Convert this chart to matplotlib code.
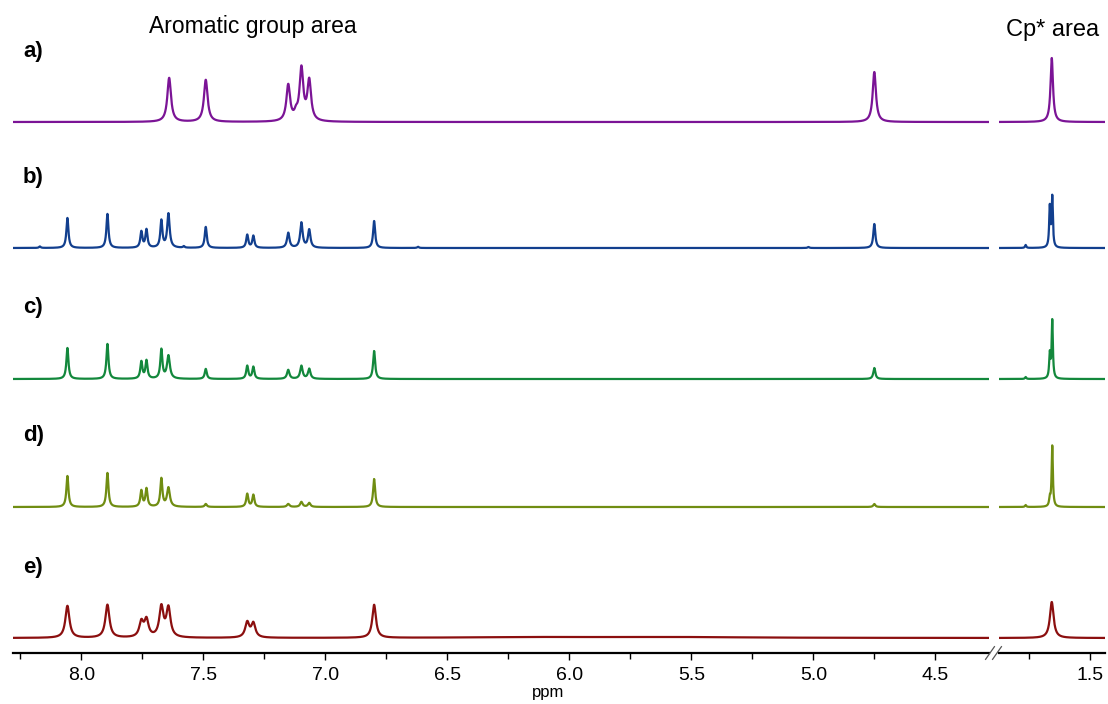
import numpy as np
import matplotlib.pyplot as plt
from matplotlib.ticker import MultipleLocator

plt.rcParams['font.family'] = ['Liberation Sans', 'DejaVu Sans']

# --- data: peak lists (ppm, height, half width) for each spectrum
labels = ['a)', 'b)', 'c)', 'd)', 'e)']
colors = ['#7b1496', '#123f8e', '#13883c', '#708d12', '#8b0f0f']

pos_a = [7.640, 7.490, 7.152, 7.120, 7.098, 7.066, 4.750, 1.656]
hgt_a = [44, 42, 36, 6, 52, 40, 50, 64]
wid_a = [0.009, 0.009, 0.009, 0.008, 0.009, 0.009, 0.008, 0.006]

pos_b = [8.057, 7.893, 7.754, 7.733, 7.672, 7.643, 7.490, 7.320, 7.295,
         7.152, 7.098, 7.066, 6.800, 4.750, 1.762, 1.664, 1.654, 8.17, 7.58, 6.62, 5.02]
hgt_b = [30, 34, 16, 18, 27, 34, 21, 13, 12,
         15, 25, 18, 27, 24, 3, 40, 50, 1.5, 1.5, 1.2, 1.0]
wid_b = [0.005, 0.005, 0.005, 0.005, 0.005, 0.006, 0.005, 0.005, 0.005,
         0.006, 0.006, 0.006, 0.005, 0.005, 0.003, 0.003, 0.003, 0.004, 0.004, 0.004, 0.004]

pos_c = [8.057, 7.893, 7.754, 7.733, 7.672, 7.643, 7.490, 7.320, 7.295,
         7.152, 7.098, 7.066, 6.800, 4.750, 1.762, 1.664, 1.654]
hgt_c = [31, 35, 17, 18, 29, 23, 10, 13, 12,
         9, 13, 10, 28, 11, 2, 24, 58]
wid_c = [0.005, 0.005, 0.005, 0.005, 0.005, 0.007, 0.005, 0.005, 0.005,
         0.006, 0.006, 0.006, 0.005, 0.005, 0.003, 0.003, 0.003]

pos_d = [8.057, 7.893, 7.754, 7.733, 7.672, 7.643, 7.490, 7.320, 7.295,
         7.152, 7.098, 7.066, 6.800, 4.750, 1.762, 1.664, 1.654]
hgt_d = [31, 34, 16, 18, 28, 19, 3, 13, 12,
         3, 5, 4, 28, 3, 2, 8, 61]
wid_d = [0.005, 0.005, 0.005, 0.005, 0.005, 0.007, 0.005, 0.005, 0.005,
         0.006, 0.006, 0.006, 0.005, 0.005, 0.003, 0.003, 0.003]

pos_e = [8.057, 7.893, 7.754, 7.733, 7.672, 7.643, 7.320, 7.295, 6.800,
         6.13, 5.55, 1.656]
hgt_e = [32, 33, 15, 17, 30, 29, 15, 14, 33,
         0.8, 0.8, 36]
wid_e = [0.010, 0.010, 0.010, 0.010, 0.010, 0.010, 0.010, 0.010, 0.009,
         0.35, 0.35, 0.009]

peaks = [(pos_a, hgt_a, wid_a), (pos_b, hgt_b, wid_b), (pos_c, hgt_c, wid_c),
         (pos_d, hgt_d, wid_d), (pos_e, hgt_e, wid_e)]

# vertical offsets of the stacked traces
offsets = [531, 405, 274, 146, 15]


def spectrum(x, pos, hgt, wid):
    y = np.zeros_like(x)
    for p, h, w in zip(pos, hgt, wid):
        y += h * w**2 / ((x - p)**2 + w**2)
    return y


x_left = np.linspace(8.28, 4.28, 12000)
x_right = np.linspace(1.87, 1.44, 3000)

fig = plt.figure(figsize=(11.08, 7.04), dpi=100)
ax1 = fig.add_axes([13/1108, 51/704, 976/1108, 613/704])
ax2 = fig.add_axes([999/1108, 51/704, 106/1108, 613/704])

for (pos, hgt, wid), off, col in zip(peaks, offsets, colors):
    ax1.plot(x_left, off + spectrum(x_left, pos, hgt, wid), color=col, lw=1.6)
    ax2.plot(x_right, off + spectrum(x_right, pos, hgt, wid), color=col, lw=1.6)

ax1.set_xlim(8.28, 4.28)
ax2.set_xlim(1.87, 1.44)
for ax in (ax1, ax2):
    ax.set_ylim(0, 613)
    for s in ('left', 'right', 'top'):
        ax.spines[s].set_visible(False)
    ax.spines['bottom'].set_linewidth(1.6)
    ax.set_yticks([])
    ax.xaxis.set_major_locator(MultipleLocator(0.5))
    ax.xaxis.set_minor_locator(MultipleLocator(0.25))
    ax.tick_params(axis='x', which='major', length=5, width=1, labelsize=14, pad=5)
    ax.tick_params(axis='x', which='minor', length=4, width=1)
    ax.patch.set_visible(False)

ax1.xaxis.set_major_formatter(plt.FormatStrFormatter('%.1f'))
ax2.xaxis.set_major_formatter(plt.FormatStrFormatter('%.1f'))

# break marks
for xf in (990/1108, 997/1108):
    fig.add_artist(plt.Line2D([xf - 0.004, xf + 0.004], [51/704 - 0.009, 51/704 + 0.009],
                              color='#555555', lw=0.9))

# labels
for lab, off in zip(labels, offsets):
    fig.text(23/1108, 1 - (653 - off - 71)/704, lab, fontsize=16, fontweight='bold',
             va='center', ha='left')

fig.text(253/1108, 1 - 27/704, 'Aromatic group area', fontsize=16.5, ha='center', va='center')
fig.text(1053/1108, 1 - 30/704, 'Cp* area', fontsize=17, ha='center', va='center')
fig.text(548/1108, 1 - 692/704, 'ppm', fontsize=12, ha='center', va='center')

plt.savefig('out.png', dpi=100)
